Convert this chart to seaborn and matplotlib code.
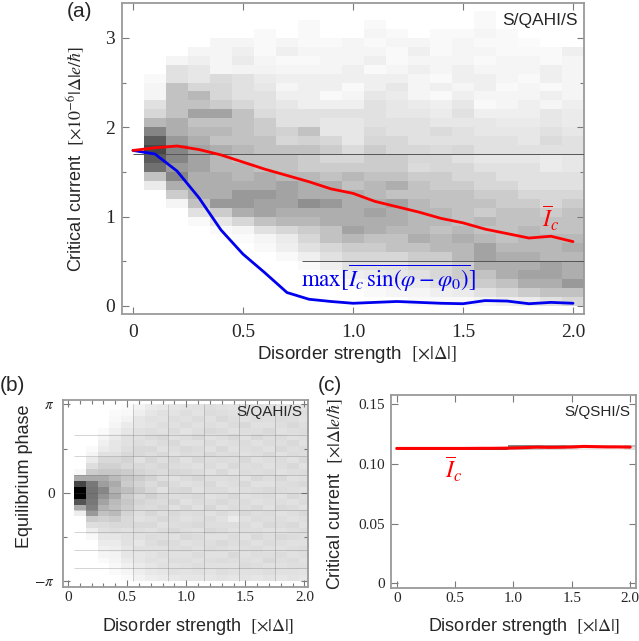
import numpy as np
import matplotlib
matplotlib.use("Agg")
import matplotlib.pyplot as plt
import seaborn as sns

# ---- curves (x in units of |Delta|) ----
disorder = [0.0, 0.1, 0.2, 0.3, 0.4, 0.5, 0.6, 0.7, 0.8, 0.9, 1.0,
            1.1, 1.2, 1.3, 1.4, 1.5, 1.6, 1.7, 1.8, 1.9, 2.0]
ic_mean_qahi = [1.74, 1.77, 1.79, 1.75, 1.69, 1.61, 1.53, 1.46, 1.39, 1.31, 1.26,
                1.17, 1.11, 1.05, 0.98, 0.93, 0.86, 0.81, 0.76, 0.78, 0.72]
ic_max_qahi = [1.74, 1.70, 1.51, 1.21, 0.85, 0.58, 0.37, 0.15, 0.075, 0.05, 0.03,
               0.04, 0.05, 0.04, 0.03, 0.025, 0.06, 0.055, 0.025, 0.04, 0.03]
ic_mean_qshi = [0.1130, 0.1130, 0.1130, 0.1130, 0.1130, 0.1130, 0.1130, 0.1131,
                0.1131, 0.1132, 0.1134, 0.1137, 0.1141, 0.1139, 0.1140, 0.1142,
                0.1147, 0.1145, 0.1143, 0.1143, 0.1141]

# ---- histogram columns (centres of disorder bins) ----
hist_disorder = [0.1, 0.2, 0.3, 0.4, 0.5, 0.6, 0.7, 0.8, 0.9, 1.0,
                 1.1, 1.2, 1.3, 1.4, 1.5, 1.6, 1.7, 1.8, 1.9, 2.0]

# (a) critical current histogram, rows from Ic = 3.3-3.4 (top) down to 0.0-0.1
qahi_ic_rows = [
    [0, 0, 0, 0, 0, 0, 0, 0, 0, 0, 0, 0, 0, 0, 0, 0, 0, 0, 0, 0],
    [0, 0, 0, 0, 0, 0, 0, 0, 0, 0, 0, 0, 0, 0, 0, 3, 0, 0, 0, 0],
    [0, 0, 0, 0, 0, 0, 0, 3, 0, 0, 3, 0, 0, 0, 0, 3, 0, 0, 0, 0],
    [0, 0, 0, 0, 0, 3, 0, 3, 0, 0, 5, 3, 0, 3, 3, 5, 3, 0, 0, 0],
    [0, 0, 0, 5, 5, 3, 5, 3, 3, 5, 3, 5, 5, 3, 5, 3, 3, 2, 0, 0],
    [0, 0, 5, 5, 8, 3, 8, 5, 5, 5, 5, 3, 8, 3, 5, 5, 3, 3, 3, 8],
    [0, 5, 8, 5, 10, 5, 3, 3, 5, 5, 8, 3, 5, 5, 5, 3, 5, 5, 3, 5],
    [0, 15, 12, 5, 6, 6, 5, 5, 5, 8, 3, 5, 8, 5, 8, 5, 5, 5, 8, 5],
    [3, 15, 12, 18, 15, 10, 8, 8, 8, 8, 8, 8, 5, 3, 8, 8, 5, 3, 8, 5],
    [5, 30, 20, 20, 15, 12, 5, 8, 8, 3, 8, 12, 5, 8, 5, 8, 3, 5, 3, 5],
    [5, 30, 35, 20, 15, 15, 8, 8, 3, 5, 12, 10, 5, 3, 8, 5, 5, 5, 8, 5],
    [15, 30, 30, 25, 20, 15, 12, 8, 8, 8, 15, 12, 10, 8, 12, 3, 5, 8, 5, 8],
    [20, 30, 45, 45, 30, 18, 15, 15, 15, 15, 15, 12, 12, 10, 15, 8, 8, 8, 12, 10],
    [35, 40, 30, 30, 30, 25, 15, 15, 12, 12, 15, 15, 15, 12, 12, 12, 10, 10, 12, 10],
    [60, 40, 35, 35, 30, 25, 22, 30, 12, 12, 18, 15, 15, 18, 15, 12, 12, 12, 15, 12],
    [80, 50, 40, 30, 30, 30, 20, 22, 20, 12, 20, 20, 15, 15, 15, 15, 15, 12, 18, 15],
    [90, 60, 45, 40, 35, 30, 30, 30, 25, 18, 25, 20, 20, 18, 20, 15, 15, 15, 15, 15],
    [80, 60, 45, 35, 30, 30, 30, 25, 20, 20, 25, 25, 20, 20, 15, 12, 12, 12, 10, 12],
    [70, 50, 45, 35, 35, 30, 30, 25, 25, 25, 25, 25, 18, 20, 20, 15, 15, 15, 10, 12],
    [30, 60, 40, 40, 35, 40, 35, 35, 30, 35, 30, 30, 25, 25, 20, 20, 15, 15, 15, 15],
    [10, 40, 40, 40, 40, 40, 45, 40, 40, 30, 35, 40, 30, 25, 25, 20, 20, 15, 15, 15],
    [0, 25, 40, 40, 50, 50, 45, 40, 40, 40, 35, 30, 30, 30, 30, 25, 25, 20, 20, 20],
    [0, 5, 30, 50, 50, 45, 45, 55, 50, 40, 40, 45, 35, 30, 30, 30, 25, 25, 20, 25],
    [0, 0, 15, 25, 40, 45, 40, 40, 40, 40, 45, 40, 35, 35, 30, 25, 30, 30, 25, 30],
    [0, 0, 3, 12, 20, 30, 35, 35, 40, 40, 40, 40, 35, 35, 30, 35, 30, 30, 30, 30],
    [0, 0, 0, 3, 5, 15, 20, 25, 30, 45, 40, 35, 35, 30, 35, 30, 30, 35, 30, 30],
    [0, 0, 0, 0, 2, 5, 10, 20, 30, 35, 30, 30, 40, 35, 40, 35, 30, 35, 35, 35],
    [0, 0, 0, 0, 0, 3, 8, 15, 20, 25, 25, 30, 30, 35, 35, 45, 35, 35, 35, 40],
    [0, 0, 0, 0, 0, 0, 3, 8, 15, 20, 20, 20, 25, 25, 35, 45, 40, 40, 35, 35],
    [0, 0, 0, 0, 0, 0, 0, 3, 8, 15, 15, 15, 20, 20, 25, 40, 40, 40, 45, 40],
    [0, 0, 0, 0, 0, 0, 0, 0, 3, 8, 10, 12, 15, 20, 25, 30, 40, 45, 45, 40],
    [0, 0, 0, 0, 0, 0, 0, 0, 0, 3, 5, 8, 10, 15, 20, 25, 30, 40, 40, 50],
    [0, 0, 0, 0, 0, 0, 0, 0, 0, 0, 3, 5, 5, 8, 10, 15, 20, 25, 30, 30],
    [0, 0, 0, 0, 0, 0, 0, 0, 0, 0, 0, 0, 3, 3, 3, 5, 8, 10, 15, 20],
]
qahi_ic_edges = np.round(np.arange(0.0, 3.41, 0.1), 2)

# (b) equilibrium phase histogram, one list per disorder column,
#     30 phase bins from +pi (first) to -pi (last)
qahi_phase_cols = [
    [0, 0, 0, 0, 0, 0, 0, 0, 0, 0, 0, 3, 33, 73, 100, 100, 67, 33, 7, 0, 0, 0, 0, 0, 0, 0, 0, 0, 0, 0],
    [0, 0, 0, 0, 0, 0, 0, 2, 4, 8, 13, 20, 33, 53, 55, 55, 53, 50, 40, 20, 13, 7, 3, 0, 0, 0, 0, 0, 0, 0],
    [0, 0, 0, 0, 2, 4, 6, 8, 12, 15, 18, 22, 33, 38, 47, 42, 36, 30, 24, 18, 14, 12, 10, 8, 6, 4, 2, 0, 0, 0],
    [0, 2, 3, 4, 6, 8, 10, 10, 12, 15, 18, 22, 27, 33, 30, 33, 27, 25, 27, 20, 15, 13, 10, 8, 7, 5, 4, 3, 2, 0],
    [2, 3, 5, 8, 10, 12, 12, 13, 15, 17, 15, 20, 22, 20, 25, 20, 22, 20, 17, 15, 15, 12, 12, 12, 10, 10, 8, 6, 4, 2],
    [5, 7, 10, 10, 12, 12, 13, 15, 15, 12, 15, 17, 20, 17, 20, 15, 17, 15, 13, 12, 15, 13, 12, 10, 12, 10, 10, 8, 7, 5],
    [8, 10, 12, 11, 13, 14, 12, 15, 13, 16, 14, 15, 17, 14, 16, 18, 15, 14, 16, 13, 15, 12, 14, 13, 12, 11, 12, 10, 9, 7],
    [9, 12, 11, 13, 12, 15, 14, 12, 15, 13, 16, 14, 13, 17, 12, 15, 14, 16, 13, 15, 12, 14, 13, 15, 12, 13, 11, 12, 10, 8],
    [10, 11, 13, 12, 14, 12, 15, 13, 12, 15, 14, 16, 12, 14, 15, 13, 16, 12, 15, 14, 13, 15, 12, 14, 13, 12, 13, 11, 12, 9],
    [11, 13, 12, 14, 11, 13, 12, 15, 14, 12, 13, 15, 14, 12, 16, 14, 12, 15, 13, 12, 14, 13, 15, 12, 14, 12, 13, 12, 11, 10],
    [12, 11, 14, 12, 13, 15, 12, 14, 13, 15, 12, 14, 16, 13, 12, 15, 14, 12, 14, 13, 15, 12, 14, 13, 12, 14, 12, 13, 12, 10],
    [13, 14, 12, 13, 15, 12, 14, 12, 15, 13, 14, 12, 13, 15, 14, 12, 13, 16, 12, 14, 13, 15, 12, 13, 14, 12, 13, 12, 11, 10],
    [12, 13, 15, 12, 14, 13, 12, 15, 13, 14, 12, 15, 13, 12, 14, 13, 15, 12, 14, 12, 13, 14, 12, 15, 13, 12, 14, 12, 13, 11],
    [11, 12, 13, 14, 12, 15, 13, 12, 14, 13, 15, 12, 14, 13, 12, 15, 13, 14, 12, 8, 13, 12, 14, 13, 12, 15, 13, 12, 12, 10],
    [12, 13, 12, 15, 13, 12, 14, 13, 12, 15, 13, 14, 12, 15, 13, 12, 14, 13, 15, 12, 14, 13, 12, 14, 13, 12, 13, 14, 12, 11],
    [13, 12, 14, 12, 13, 15, 12, 14, 13, 12, 14, 13, 15, 12, 14, 13, 12, 15, 13, 14, 12, 13, 15, 12, 14, 13, 12, 13, 12, 10],
    [12, 14, 13, 12, 15, 13, 14, 12, 15, 13, 12, 14, 13, 12, 15, 14, 13, 12, 14, 13, 15, 12, 13, 14, 12, 13, 15, 12, 13, 11],
    [11, 13, 14, 13, 12, 14, 13, 15, 12, 14, 13, 12, 15, 13, 14, 12, 13, 15, 12, 13, 14, 12, 15, 13, 12, 14, 13, 12, 12, 10],
    [12, 12, 13, 15, 13, 12, 15, 13, 14, 12, 15, 13, 12, 14, 13, 15, 12, 14, 13, 12, 15, 13, 14, 12, 13, 12, 14, 13, 12, 11],
    [11, 13, 12, 13, 14, 13, 12, 14, 13, 15, 12, 14, 13, 15, 12, 13, 14, 12, 15, 13, 12, 14, 13, 12, 14, 13, 12, 13, 11, 10],
]
phase_edges = np.linspace(-np.pi, np.pi, 31)

# (c) S/QSHI/S histogram: two Ic bins around the mean
qshi_ic_edges = [0.112, 0.114, 0.116]
qshi_hist_low = [80, 80, 80, 80, 80, 80, 80, 80, 80, 30, 30, 25, 20, 20, 15, 10, 10, 8, 8, 15]
qshi_hist_high = [0, 0, 0, 0, 0, 0, 0, 0, 0, 60, 60, 55, 50, 50, 40, 25, 20, 20, 15, 30]

# reference lines seen in panel (a) and mesh lines in panel (b)
qahi_ref_levels = [1.70, 0.50]
phase_mesh_x = [0.55, 0.85, 1.15, 1.45, 1.75]
phase_mesh_y = [2.05, 1.30, 0.63, 0.0, -0.62, -1.39, -2.04, -2.68]

dis_ticks = [0, 0.5, 1.0, 1.5, 2.0]
dis_ticklabels = ["0", "0.5", "1.0", "1.5", "2.0"]
ic_ticks_a = [0, 1, 2, 3]
phase_ticks = [-np.pi, 0, np.pi]
phase_ticklabels = [r"$-\pi$", "0", r"$\pi$"]
ic_ticks_c = [0, 0.05, 0.10, 0.15]
ic_ticklabels_c = ["0", "0.05", "0.10", "0.15"]

sns.set_style("ticks")
plt.rcParams["font.family"] = ["Liberation Sans", "DejaVu Sans"]
plt.rcParams["mathtext.fontset"] = "stix"

SERIF = "Liberation Serif"
FRAME = "#9a9a9a"


def draw_hist(ax, xc, yedges, grid, vmax):
    xc = np.asarray(xc)
    xe = np.r_[xc - 0.05, xc[-1] + 0.05]
    ax.pcolormesh(xe, yedges, np.asarray(grid), cmap="gray_r", vmin=0, vmax=vmax,
                  shading="flat", linewidth=0, antialiased=False, zorder=0)


def style_frame(ax, tick_size, pad):
    for s in ax.spines.values():
        s.set_color(FRAME)
        s.set_linewidth(1.3)
    ax.tick_params(which="both", direction="in", top=True, right=True,
                   color="#7a7a7a", width=0.8, labelsize=tick_size,
                   labelfontfamily=SERIF, pad=pad)
    ax.tick_params(which="major", length=5)
    ax.tick_params(which="minor", length=3)


fig = plt.figure(figsize=(6.39, 6.41), dpi=100)
W, H = 639, 641
ax_a = fig.add_axes([122 / W, 1 - 314 / H, 462 / W, 311 / H])
ax_b = fig.add_axes([63 / W, 1 - 587 / H, 245 / W, 187 / H])
ax_c = fig.add_axes([391 / W, 1 - 588 / H, 245 / W, 193 / H])

# ---------------- (a) ----------------
draw_hist(ax_a, hist_disorder, qahi_ic_edges, np.array(qahi_ic_rows)[::-1], 125)
ax_a.hlines(qahi_ref_levels[0], 0.0, 2.05, color="#555555", lw=0.7, zorder=3)
ax_a.hlines(qahi_ref_levels[1], 0.77, 2.05, color="#555555", lw=0.7, zorder=3)
sns.lineplot(x=disorder, y=ic_max_qahi, ax=ax_a, color="#0000ee", lw=2.0, zorder=4)
sns.lineplot(x=disorder, y=ic_mean_qahi, ax=ax_a, color="#ff0000", lw=2.0, zorder=5)
ax_a.set_xlim(-0.05, 2.05)
ax_a.set_ylim(-0.09, 3.39)
ax_a.set_xticks(dis_ticks, dis_ticklabels)
ax_a.set_yticks(ic_ticks_a, [str(t) for t in ic_ticks_a])
ax_a.set_yticks([0.5, 1.5, 2.5], minor=True)
style_frame(ax_a, 14, 5)
ax_a.tick_params(axis="x", pad=7)
ax_a.set_ylabel(r"Critical current  $[\times 10^{-6}|\Delta|e/\hbar]$", fontsize=13)
ax_a.set_xlabel(r"Disorder strength  $[\times|\Delta|]$", fontsize=13.5)
ax_a.yaxis.set_label_coords(-0.075, 0.5)
ax_a.xaxis.set_label_coords(0.509, -0.095)
ax_a.text(2.02, 3.28, "S/QAHI/S", ha="right", va="top", fontsize=12.5)
ax_a.text(1.90, 0.975, r"$\overline{I}_c$", color="#ff0000", ha="center", va="center",
          fontsize=17)
ax_a.text(0.765, 0.21, r"$\max[\overline{I_c\,\sin(\varphi-\varphi_0)}]$", color="#0000ee",
          ha="left", va="baseline", fontsize=16.5)

# ---------------- (b) ----------------
draw_hist(ax_b, hist_disorder, phase_edges, np.array(qahi_phase_cols).T[::-1], 100)
ax_b.vlines(phase_mesh_x, -np.pi, np.pi, color="#555555", lw=0.5, alpha=0.35, zorder=2)
ax_b.hlines(phase_mesh_y, 0.05, 2.05, color="#555555", lw=0.5, alpha=0.35, zorder=2)
ax_b.set_xlim(-0.042, 2.03)
ax_b.set_ylim(-3.35, 3.30)
ax_b.set_xticks(dis_ticks, dis_ticklabels)
ax_b.set_xticks(np.round(np.arange(0.1, 2.0, 0.1), 1), minor=True)
ax_b.set_yticks(phase_ticks, phase_ticklabels)
ax_b.set_yticks([-np.pi / 2, np.pi / 2], minor=True)
style_frame(ax_b, 11, 3)
ax_b.tick_params(axis="y", pad=6)
ax_b.set_ylabel("Equilibrium phase", fontsize=13)
ax_b.set_xlabel(r"Disorder strength  $[\times|\Delta|]$", fontsize=13)
ax_b.yaxis.set_label_coords(-0.121, 0.594)
ax_b.xaxis.set_label_coords(0.553, -0.155)
ax_b.text(1.98, 3.12, "S/QAHI/S", ha="right", va="top", fontsize=11)

# ---------------- (c) ----------------
draw_hist(ax_c, hist_disorder, qshi_ic_edges, np.array([qshi_hist_low, qshi_hist_high]), 125)
sns.lineplot(x=disorder, y=ic_mean_qshi, ax=ax_c, color="#ff0000", lw=2.2, zorder=5)
ax_c.set_xlim(-0.049, 2.05)
ax_c.set_ylim(-0.004, 0.1578)
ax_c.set_xticks(dis_ticks, dis_ticklabels)
ax_c.set_yticks(ic_ticks_c, ic_ticklabels_c)
style_frame(ax_c, 11, 3)
ax_c.tick_params(axis="y", pad=4)
ax_c.set_ylabel(r"Critical current  $[\times|\Delta|e/\hbar]$", fontsize=13)
ax_c.set_xlabel(r"Disorder strength  $[\times|\Delta|]$", fontsize=13)
ax_c.yaxis.set_label_coords(-0.188, 0.487)
ax_c.xaxis.set_label_coords(0.543, -0.145)
ax_c.text(2.0, 0.1494, "S/QSHI/S", ha="right", va="top", fontsize=11)
ax_c.text(0.49, 0.095, r"$\overline{I}_c$", color="#ff0000", ha="center", va="center",
          fontsize=17)

# panel letters
fig.text(67 / W, 1 - 2 / H, "(a)", ha="left", va="top", fontsize=15)
fig.text(0 / W, 1 - 376 / H, "(b)", ha="left", va="top", fontsize=15)
fig.text(318 / W, 1 - 376 / H, "(c)", ha="left", va="top", fontsize=15)

fig.savefig("out.png", dpi=100)
